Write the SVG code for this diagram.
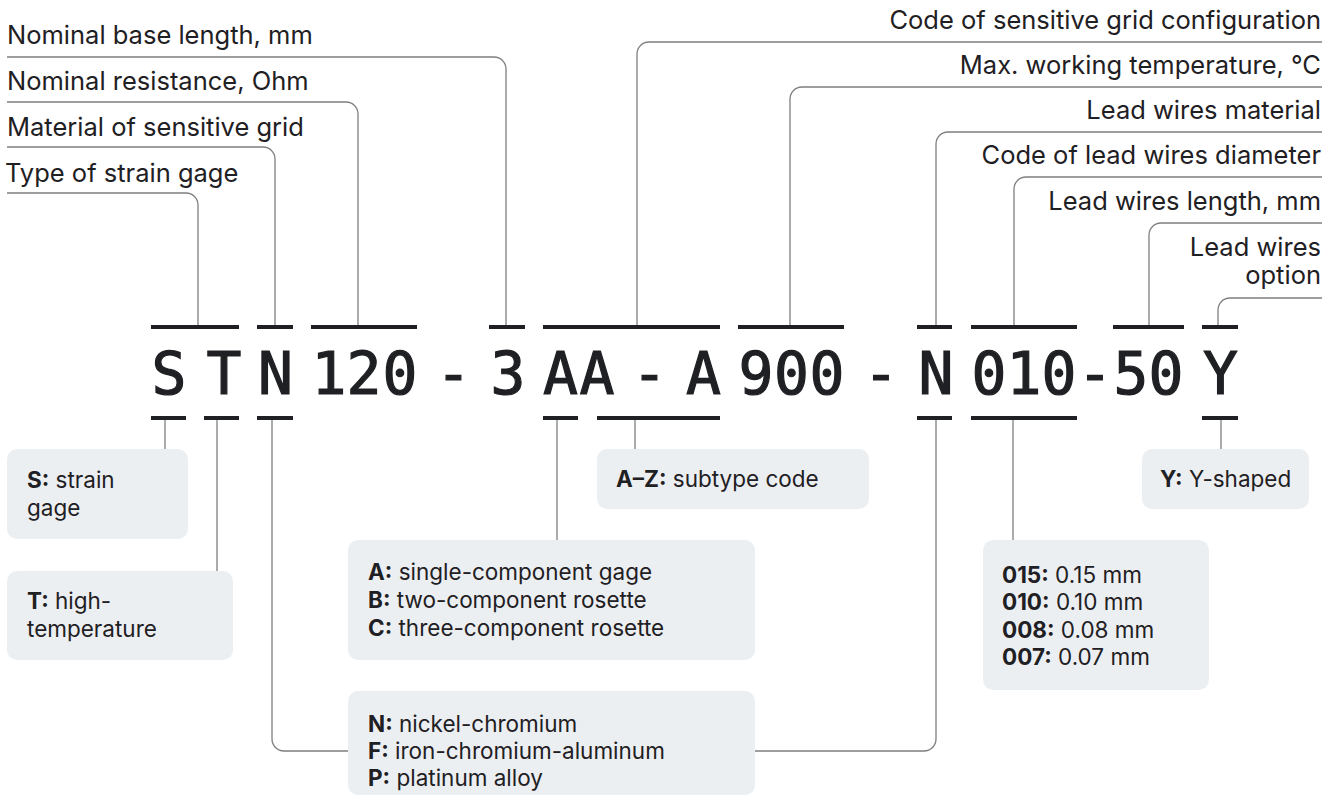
<svg xmlns="http://www.w3.org/2000/svg" width="1337" height="808" viewBox="0 0 1337 808">
<style>
.lbl{font-family:Inter,"Noto Sans",sans-serif;font-size:25.5px;fill:#1f2023}
.r{text-anchor:end}
.code{font-family:"DejaVu Sans Mono","Liberation Mono",monospace;font-size:58px;fill:#1f2023;stroke:#1f2023;stroke-width:1.2;text-anchor:middle}
.bar{fill:#1f2023}
.box{fill:#eceff2}
.bt{font-family:Inter,"Noto Sans",sans-serif;font-size:22.5px;fill:#1f2023}
.b{font-weight:700}
.con{fill:none;stroke:#7f7f7f;stroke-width:1.3}
</style>
<rect width="1337" height="808" fill="#ffffff"/>
<g id="connectors" class="con">
<path d="M7 57 H494 A12 12 0 0 1 506 69 V325"/>
<path d="M7 102 H346 A12 12 0 0 1 358 114 V325"/>
<path d="M7 147 H263 A12 12 0 0 1 275 159 V325"/>
<path d="M7 193 H186 A12 12 0 0 1 198 205 V325"/>
<path d="M1322 42 H649 A12 12 0 0 0 637 54 V325"/>
<path d="M1322 87 H802 A12 12 0 0 0 790 99 V325"/>
<path d="M1322 132 H948 A12 12 0 0 0 936 144 V325"/>
<path d="M1322 177 H1026 A12 12 0 0 0 1014 189 V325"/>
<path d="M1322 223 H1161 A12 12 0 0 0 1149 235 V325"/>
<path d="M1322 298 H1230 A12 12 0 0 0 1218 310 V325"/>
<path d="M165 420 V449"/>
<path d="M217 420 V571"/>
<path d="M272 420 V739 A12 12 0 0 0 284 751 H924 A12 12 0 0 0 936 739 V420"/>
<path d="M557 420 V540"/>
<path d="M635 420 V449"/>
<path d="M1013 420 V540"/>
<path d="M1221 420 V449"/>
</g>
<g id="top-labels">
<text class="lbl" x="7" y="44">Nominal base length, mm</text>
<text class="lbl" x="7" y="90">Nominal resistance, Ohm</text>
<text class="lbl" x="7" y="136">Material of sensitive grid</text>
<text class="lbl" x="5" y="182">Type of strain gage</text>
<text class="lbl r" x="1321" y="29">Code of sensitive grid configuration</text>
<text class="lbl r" x="1321" y="74">Max. working temperature, °C</text>
<text class="lbl r" x="1321" y="119">Lead wires material</text>
<text class="lbl r" x="1321" y="164">Code of lead wires diameter</text>
<text class="lbl r" x="1321" y="210">Lead wires length, mm</text>
<text class="lbl r" x="1321" y="256">Lead wires</text>
<text class="lbl r" x="1321" y="284">option</text>
</g>
<g id="bars">
<rect class="bar" x="151" y="325" width="88" height="4"/>
<rect class="bar" x="257" y="325" width="36" height="4"/>
<rect class="bar" x="311" y="325" width="106" height="4"/>
<rect class="bar" x="489" y="325" width="36" height="4"/>
<rect class="bar" x="543" y="325" width="177" height="4"/>
<rect class="bar" x="738" y="325" width="106" height="4"/>
<rect class="bar" x="917" y="325" width="35" height="4"/>
<rect class="bar" x="971" y="325" width="106" height="4"/>
<rect class="bar" x="1113" y="325" width="71" height="4"/>
<rect class="bar" x="1202" y="325" width="36" height="4"/>
<rect class="bar" x="151" y="416" width="35" height="4"/>
<rect class="bar" x="204" y="416" width="35" height="4"/>
<rect class="bar" x="257" y="416" width="36" height="4"/>
<rect class="bar" x="543" y="416" width="35" height="4"/>
<rect class="bar" x="597" y="416" width="123" height="4"/>
<rect class="bar" x="917" y="416" width="35" height="4"/>
<rect class="bar" x="971" y="416" width="106" height="4"/>
<rect class="bar" x="1202" y="416" width="36" height="4"/>
</g>
<g id="code">
<text class="code" x="169" y="394">S</text>
<text class="code" x="224" y="394">T</text>
<text class="code" x="275.5" y="394">N</text>
<text class="code" x="329" y="394">1</text>
<text class="code" x="364" y="394">2</text>
<text class="code" x="400" y="394">0</text>
<text class="code" x="453.5" y="394">-</text>
<text class="code" x="508" y="394">3</text>
<text class="code" x="560.5" y="394">A</text>
<text class="code" x="597" y="394">A</text>
<text class="code" x="649.5" y="394">-</text>
<text class="code" x="703.5" y="394">A</text>
<text class="code" x="756" y="394">9</text>
<text class="code" x="791.5" y="394">0</text>
<text class="code" x="827" y="394">0</text>
<text class="code" x="881" y="394">-</text>
<text class="code" x="936" y="394">N</text>
<text class="code" x="989" y="394">0</text>
<text class="code" x="1024" y="394">1</text>
<text class="code" x="1059" y="394">0</text>
<text class="code" x="1095" y="394">-</text>
<text class="code" x="1131" y="394">5</text>
<text class="code" x="1166" y="394">0</text>
<text class="code" x="1220.5" y="394">Y</text>
</g>
<g id="box-S">
<rect class="box" x="7" y="449" width="181" height="90" rx="10"/>
<text class="bt" x="27" y="488"><tspan class="b">S:</tspan> strain</text>
<text class="bt" x="27" y="516">gage</text>
</g>
<g id="box-T">
<rect class="box" x="7" y="571" width="226" height="89" rx="10"/>
<text class="bt" x="27" y="609"><tspan class="b">T:</tspan> high-</text>
<text class="bt" x="27" y="637">temperature</text>
</g>
<g id="box-ABC">
<rect class="box" x="348" y="540" width="407" height="120" rx="10"/>
<text class="bt" x="368" y="580"><tspan class="b">A:</tspan> single-component gage</text>
<text class="bt" x="368" y="608"><tspan class="b">B:</tspan> two-component rosette</text>
<text class="bt" x="368" y="636"><tspan class="b">C:</tspan> three-component rosette</text>
</g>
<g id="box-N">
<rect class="box" x="348" y="691" width="407" height="104" rx="10"/>
<text class="bt" x="368" y="732"><tspan class="b">N:</tspan> nickel-chromium</text>
<text class="bt" x="368" y="759"><tspan class="b">F:</tspan> iron-chromium-aluminum</text>
<text class="bt" x="368" y="786"><tspan class="b">P:</tspan> platinum alloy</text>
</g>
<g id="box-AZ">
<rect class="box" x="597" y="449" width="272" height="60" rx="10"/>
<text class="bt" x="616" y="487"><tspan class="b">A–Z:</tspan> subtype code</text>
</g>
<g id="box-010">
<rect class="box" x="983" y="540" width="226" height="150" rx="10"/>
<text class="bt" x="1002" y="583"><tspan class="b">015:</tspan> 0.15 mm</text>
<text class="bt" x="1002" y="610"><tspan class="b">010:</tspan> 0.10 mm</text>
<text class="bt" x="1002" y="638"><tspan class="b">008:</tspan> 0.08 mm</text>
<text class="bt" x="1002" y="665"><tspan class="b">007:</tspan> 0.07 mm</text>
</g>
<g id="box-Y">
<rect class="box" x="1142" y="449" width="167" height="60" rx="10"/>
<text class="bt" x="1160" y="487"><tspan class="b">Y:</tspan> Y-shaped</text>
</g>
</svg>
